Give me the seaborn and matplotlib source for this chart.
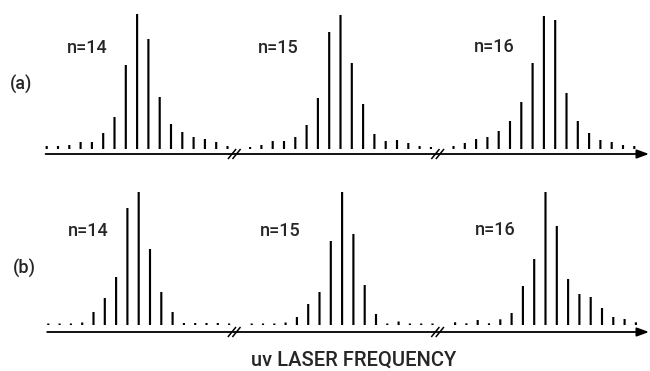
import numpy as np
import pandas as pd
import matplotlib
matplotlib.use("Agg")
import matplotlib.pyplot as plt
import seaborn as sns

# ---------------- data (relative line intensities) ----------------
groups = ["n=14", "n=15", "n=16"]
n_lines = 17            # sidebands drawn per Rydberg level
group_pitch = 18        # position offset between levels (break in the axis between them)

a_n14 = [3, 3, 4, 7, 7, 16, 32, 84, 135, 110, 52, 25, 17, 12, 10, 7, 3]
a_n15 = [2, 4, 8, 8, 12, 24, 51, 117, 134, 86, 45, 15, 8, 9, 6, 3, 2]
a_n16 = [3, 6, 10, 12, 18, 28, 47, 86, 133, 129, 56, 28, 16, 9, 7, 4, 3]

b_n14 = [1.5, 1.5, 1.5, 2.5, 13, 27, 48, 117, 133, 76, 33, 13, 2, 2, 2, 2, 1.5]
b_n15 = [1.5, 1.5, 1.5, 2.5, 8, 21, 33, 84, 133, 91, 40, 11, 1.5, 3.5, 1.5, 1.5, 1.5]
b_n16 = [2.7, 1.7, 5, 1.7, 5.7, 12, 39, 66, 133, 99, 46, 31, 28, 17, 8, 6, 2.7]

panel_labels = ["(a)", "(b)"]
xlabel = "uv LASER FREQUENCY"


def make_df(series):
    rows = []
    for g, vals in enumerate(series):
        for i, v in enumerate(vals):
            rows.append({"level": groups[g], "pos": g * group_pitch + i, "height": v})
    return pd.DataFrame(rows)


df_a = make_df([a_n14, a_n15, a_n16])
df_b = make_df([b_n14, b_n15, b_n16])

# ---------------- figure ----------------
sns.set_theme(style="white")
plt.rcParams["font.family"] = ["Roboto", "DejaVu Sans"]
FONT = dict(fontsize=13, fontweight="medium")

W, H = 650, 371
fig = plt.figure(figsize=(W / 100, H / 100), dpi=100)
fig.patch.set_facecolor("white")

PITCH = 11.3  # pixels per position unit


def add_panel(df, x0_px, base_px, top_px, bot_px, axis_off, label, label_xy, tag_xy, break_x):
    L, R = 38, 650
    ax = fig.add_axes([L / W, 1 - bot_px / H, (R - L) / W, (bot_px - top_px) / H])
    sns.barplot(data=df, x="pos", y="height", native_scale=True, width=0.19,
                color="black", saturation=1, errorbar=None, linewidth=0, ax=ax)
    for p in ax.patches:
        p.set_snap(False)
    ax.set_xlim((L - x0_px) / PITCH, (R - x0_px) / PITCH)
    ax.set_ylim(base_px - bot_px, base_px - top_px)
    ax.axis("off")
    # frequency axis with arrow
    y0 = -axis_off
    x_end = (649 - x0_px) / PITCH
    ax.annotate("", xy=(x_end, y0), xytext=(-0.1, y0),
                arrowprops=dict(arrowstyle="-|>,head_length=0.6,head_width=0.22",
                                lw=1.3, color="black", shrinkA=0, shrinkB=0),
                annotation_clip=False)
    # axis breaks //
    for bx in break_x:
        for dx in (-0.2, 0.2):
            ax.plot([bx + dx - 0.36, bx + dx + 0.36], [y0 - 5, y0 + 5],
                    color="black", lw=1.1, solid_capstyle="butt", clip_on=False)
    # level labels
    for (tx, ty), g in zip(tag_xy, groups):
        fig.text(tx / W, 1 - ty / H, g, ha="center", va="center", **FONT)
    fig.text(label_xy[0] / W, 1 - label_xy[1] / H, label, ha="center", va="center", **FONT)
    return ax


add_panel(df_a, 46.7, 149, 5, 165, 5,
          panel_labels[0], (21, 84), [(87, 48), (278, 48), (494, 47)], [16.6, 34.6])
add_panel(df_b, 48.3, 325, 180, 345, 7,
          panel_labels[1], (24, 269), [(88, 231), (280, 231), (495, 230)], [16.45, 34.45])

fig.text(354 / W, 1 - 360 / H, xlabel, ha="center", va="center",
         fontsize=14.5, fontweight="medium")

fig.savefig("out.png", dpi=100, facecolor="white")
